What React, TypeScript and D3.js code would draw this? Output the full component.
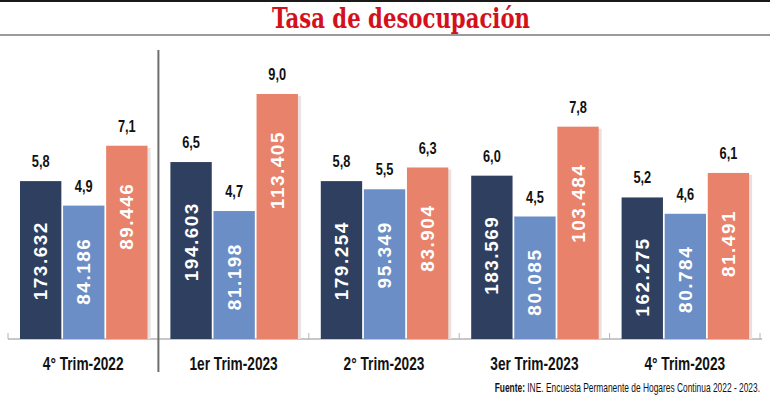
import React from 'react';
import * as d3 from 'd3';

const categories = ['4° Trim-2022', '1er Trim-2023', '2° Trim-2023', '3er Trim-2023', '4° Trim-2023'];
const seriesKeys = ['total', 'hombres', 'mujeres'];

// tasa de desocupación (%)
const tasaTotal = [5.8, 6.5, 5.8, 6.0, 5.2];
const tasaHombres = [4.9, 4.7, 5.5, 4.5, 4.6];
const tasaMujeres = [7.1, 9.0, 6.3, 7.8, 6.1];

// personas desocupadas
const desocTotal = [173632, 194603, 179254, 183569, 162275];
const desocHombres = [84186, 81198, 95349, 80085, 80784];
const desocMujeres = [89446, 113405, 83904, 103484, 81491];

const colors: Record<string, string> = {
  total: '#2f3f5f',
  hombres: '#6b8ec6',
  mujeres: '#e8826a',
};
// where the white figure starts, measured down from the top of each bar
const innerOffset: Record<string, number> = { total: 40, hombres: 32, mujeres: 37 };

const W = 770;
const H = 397;
const baseY = 339;

const locale = d3.formatLocale({ decimal: ',', thousands: '.', grouping: [3], currency: ['', ''] });
const fmtRate = locale.format('.1f');
const fmtCount = locale.format(',d');

const sans = '"Liberation Sans", Arial, sans-serif';

// no narrow face is installed, so squeeze the regular one horizontally
const Narrow: React.FC<{
  x: number;
  y: number;
  sx: number;
  size: number;
  anchor?: string;
  weight?: string;
  children: React.ReactNode;
}> = ({ x, y, sx, size, anchor = 'middle', weight = 'bold', children }) => (
  <text
    transform={`translate(${x},${y}) scale(${sx},1)`}
    textAnchor={anchor}
    fontFamily={sans}
    fontWeight={weight}
    fontSize={size}
    fill="#111"
  >
    {children}
  </text>
);

const App: React.FC = () => {
  const rows = categories.map((cat, i) => ({
    cat,
    bars: [
      { key: 'total', rate: tasaTotal[i], count: desocTotal[i] },
      { key: 'hombres', rate: tasaHombres[i], count: desocHombres[i] },
      { key: 'mujeres', rate: tasaMujeres[i], count: desocMujeres[i] },
    ],
  }));

  const x0 = d3.scaleBand<string>().domain(categories).range([8, 760]).padding(0);
  const x1 = d3.scaleBand<string>().domain(seriesKeys).range([12, 139.5]).paddingInner(0.04).paddingOuter(0);
  const y = d3.scaleLinear().domain([0, 9]).range([baseY, 94]);

  const tickXs = categories.map(c => x0(c)!).concat([x0.range()[1]]);

  return (
    <svg
      width={W}
      height={H}
      style={{ position: 'absolute', left: 0, top: 0, background: '#fff' }}
    >
      <rect x={0} y={0} width={W} height={H} fill="#fff" />
      <line x1={0} x2={W} y1={1} y2={1} stroke="#1a1a1a" strokeWidth={2} />
      <text
        x={401}
        y={28}
        textAnchor="middle"
        fill="#d4101c"
        fontFamily='"DejaVu Serif Condensed", "DejaVu Serif", serif'
        fontWeight="bold"
        fontSize={27}
        textLength={258}
        lengthAdjust="spacingAndGlyphs"
      >
        Tasa de desocupación
      </text>
      <line x1={0} x2={W} y1={35} y2={35} stroke="#7a7a7a" strokeWidth={1.5} />

      {/* eje */}
      <line x1={8} x2={762} y1={baseY} y2={baseY} stroke="#b4b4b4" strokeWidth={1.5} />
      {tickXs.map((tx, i) => (
        <line key={i} x1={tx} x2={tx} y1={baseY - 6} y2={baseY} stroke="#b4b4b4" strokeWidth={1} />
      ))}

      {rows.map(row => {
        const gx = x0(row.cat)!;
        const last = row.bars[row.bars.length - 1];
        return (
          <g key={row.cat} transform={`translate(${gx},0)`}>
            {/* sombra del grupo */}
            <rect
              x={x1(last.key)! + 3}
              y={y(last.rate) + 2}
              width={x1.bandwidth()}
              height={baseY - y(last.rate) - 2}
              fill="#e9e1e1"
            />
            {row.bars.map(b => {
              const bx = x1(b.key)!;
              const top = y(b.rate);
              const cx = bx + x1.bandwidth() / 2;
              return (
                <g key={b.key}>
                  <rect x={bx} y={top} width={x1.bandwidth()} height={baseY - top} fill={colors[b.key]} />
                  <Narrow x={cx} y={top - 14} sx={0.8} size={16}>
                    {fmtRate(b.rate)}
                  </Narrow>
                  <text
                    transform={`translate(${cx},${top + innerOffset[b.key]}) rotate(-90)`}
                    textAnchor="end"
                    dominantBaseline="central"
                    fontFamily={sans}
                    fontWeight="bold"
                    fontSize={19}
                    letterSpacing={1.5}
                    fill="#fff"
                  >
                    {fmtCount(b.count)}
                  </text>
                </g>
              );
            })}
            <Narrow x={x0.bandwidth() / 2} y={370} sx={0.74} size={18.5}>
              {row.cat}
            </Narrow>
          </g>
        );
      })}

      <line x1={158.4} x2={158.4} y1={50} y2={372} stroke="#6e6e6e" strokeWidth={2} />

      <Narrow x={760} y={392} sx={0.7} size={12} anchor="end" weight="normal">
        <tspan fontWeight="bold">Fuente:</tspan> INE. Encuesta Permanente de Hogares Continua 2022 - 2023.
      </Narrow>
    </svg>
  );
};

export default App;
